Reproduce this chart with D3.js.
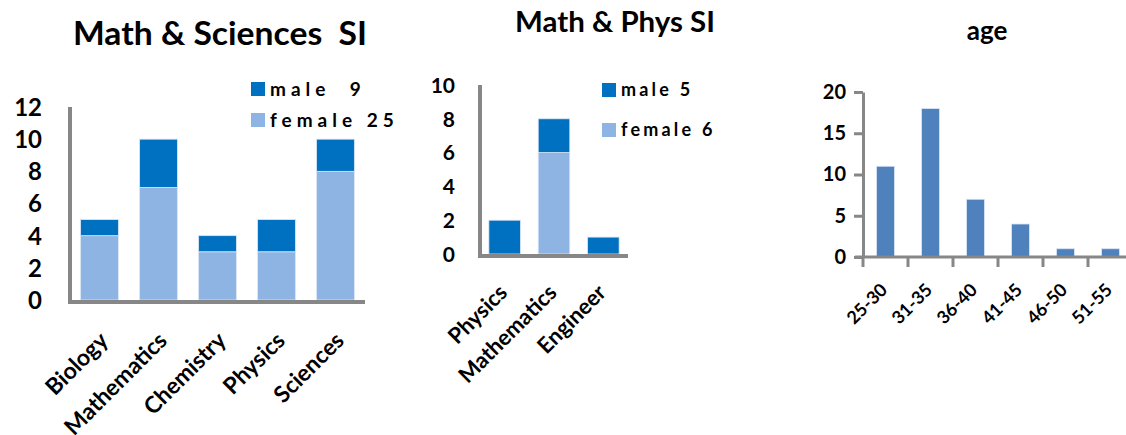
<!DOCTYPE html>
<html>
<head>
<meta charset="utf-8">
<script src="https://cdn.jsdelivr.net/npm/d3@7"></script>
<style>
  body { margin: 0; background: #fff; }
  svg { display: block; font-family: Lato, "Open Sans", sans-serif; font-weight: bold; }
</style>
</head>
<body>
<svg width="1126" height="435"></svg>
<script>
// chart 1: Math & Sciences SI
var sciCategories = ['Biology', 'Mathematics', 'Chemistry', 'Physics', 'Sciences'];
var sciFemale = [4, 7, 3, 3, 8];
var sciMale = [1, 3, 1, 2, 2];
var sciTicks = [0, 2, 4, 6, 8, 10, 12];

// chart 2: Math & Phys SI
var physCategories = ['Physics', 'Mathematics', 'Engineer'];
var physFemale = [0, 6, 0];
var physMale = [2, 2, 1];
var physTicks = [0, 2, 4, 6, 8, 10];

// chart 3: age
var ageCategories = ['25-30', '31-35', '36-40', '41-45', '46-50', '51-55'];
var ageCounts = [11, 18, 7, 4, 1, 1];
var ageTicks = [0, 5, 10, 15, 20];

var maleColor = '#0070c0';
var femaleColor = '#8eb4e3';
var ageColor = '#4f81bd';
var axisColor = '#878787';

var svg = d3.select('svg');

function stackedChart(opt) {
    var g = svg.append('g');
    var x = d3.scaleBand().domain(opt.categories).range([opt.left, opt.right]).paddingInner(opt.pad).paddingOuter(opt.pad / 2);
    var y = d3.scaleLinear().domain([0, opt.max]).range([opt.bottom, opt.top]);

    var rows = opt.categories.map(function(c, i) {
        return { cat: c, female: opt.female[i], male: opt.male[i] };
    });
    var series = d3.stack().keys(['female', 'male'])(rows);

    g.selectAll('g.layer')
        .data(series)
        .enter()
        .append('g')
        .attr('fill', function(d) { return d.key == 'male' ? maleColor : femaleColor })
        .selectAll('rect')
        .data(function(d) { return d.filter(function(s) { return s[1] > s[0] }) })
        .enter()
        .append('rect')
        .attr('x', function(d) { return x(d.data.cat) })
        .attr('width', x.bandwidth())
        .attr('y', function(d) { return y(d[1]) })
        .attr('height', function(d) { return y(d[0]) - y(d[1]) })
        .attr('stroke', '#dbe6f4')
        .attr('stroke-width', 0.8);

    // axes lines
    g.append('line')
        .attr('x1', opt.left).attr('x2', opt.left)
        .attr('y1', y(opt.max)).attr('y2', opt.bottom + 2)
        .attr('stroke', axisColor).attr('stroke-width', 4);
    g.append('line')
        .attr('x1', opt.left - 2).attr('x2', opt.right)
        .attr('y1', opt.bottom + 2).attr('y2', opt.bottom + 2)
        .attr('stroke', axisColor).attr('stroke-width', 4);

    var yAxis = d3.axisLeft(y).tickValues(opt.ticks).tickSize(0).tickPadding(opt.left - opt.labelX);
    var ya = g.append('g').attr('transform', 'translate(' + opt.left + ',0)').call(yAxis);
    ya.select('.domain').remove();
    ya.selectAll('text').attr('font-size', opt.tickSize).attr('font-family', 'Lato').attr('font-weight', 'bold').attr('fill', '#000').attr('dy', '0.35em');

    g.selectAll('text.xl')
        .data(opt.categories)
        .enter()
        .append('text')
        .attr('class', 'xl')
        .attr('text-anchor', 'end')
        .attr('font-size', opt.xSize)
        .attr('transform', function(d) {
            return 'translate(' + (x(d) + x.bandwidth() / 2 + opt.xOff[0]) + ',' + opt.xOff[1] + ') rotate(-45)';
        })
        .text(function(d) { return d });

    g.append('text')
        .attr('x', opt.titleX).attr('y', opt.titleY)
        .attr('text-anchor', 'middle')
        .attr('font-size', opt.titleSize)
        .attr('textLength', opt.titleLen)
        .attr('lengthAdjust', 'spacingAndGlyphs')
        .attr('xml:space', 'preserve')
        .text(opt.title);

    var legend = [
        { label: opt.maleLabel, color: maleColor },
        { label: opt.femaleLabel, color: femaleColor }
    ];
    g.selectAll('rect.leg')
        .data(legend)
        .enter()
        .append('rect')
        .attr('x', opt.legX)
        .attr('y', function(d, i) { return opt.legY + i * opt.legStep })
        .attr('width', opt.legBox).attr('height', opt.legBox)
        .attr('fill', function(d) { return d.color });
    g.selectAll('text.leg')
        .data(legend)
        .enter()
        .append('text')
        .attr('x', opt.legX + opt.legBox + 5)
        .attr('y', function(d, i) { return opt.legY + i * opt.legStep + opt.legBox / 2 })
        .attr('dy', '0.36em')
        .attr('font-size', opt.legSize)
        .attr('letter-spacing', opt.legSpacing)
        .attr('xml:space', 'preserve')
        .text(function(d) { return d.label });
}

stackedChart({
    categories: sciCategories, female: sciFemale, male: sciMale, ticks: sciTicks, max: 12,
    left: 70, right: 365, top: 107, bottom: 300, pad: 0.36,
    labelX: 42, tickSize: 24, xSize: 23, xOff: [10, 342],
    title: 'Math & Sciences  SI', titleX: 220, titleY: 45, titleSize: 32, titleLen: 294,
    maleLabel: 'male  9', femaleLabel: 'female 25',
    legX: 251, legY: 82, legStep: 31, legBox: 14, legSize: 19, legSpacing: 5
});

stackedChart({
    categories: physCategories, female: physFemale, male: physMale, ticks: physTicks, max: 10,
    left: 480, right: 628, top: 85, bottom: 254, pad: 0.36,
    labelX: 455, tickSize: 21, xSize: 22, xOff: [4, 294],
    title: 'Math & Phys SI', titleX: 615, titleY: 32, titleSize: 28, titleLen: 200,
    maleLabel: 'male 5', femaleLabel: 'female 6',
    legX: 602, legY: 83, legStep: 40, legBox: 14, legSize: 18, legSpacing: 3.2
});

// age chart
var ag = svg.append('g');
var ax = d3.scaleBand().domain(ageCategories).range([863, 1133]).paddingInner(0.6).paddingOuter(0.3);
var ay = d3.scaleLinear().domain([0, 20]).range([257, 92]);

ag.selectAll('rect')
    .data(ageCounts)
    .enter()
    .append('rect')
    .attr('x', function(d, i) { return ax(ageCategories[i]) })
    .attr('width', ax.bandwidth())
    .attr('y', function(d) { return ay(d) })
    .attr('height', function(d) { return ay(0) - ay(d) })
    .attr('fill', ageColor)
    .attr('stroke', '#dbe6f4')
    .attr('stroke-width', 0.8);

var yAxis3 = d3.axisLeft(ay).tickValues(ageTicks).tickSizeOuter(0).tickSizeInner(9).tickPadding(8);
var ya3 = ag.append('g').attr('transform', 'translate(863,0)').call(yAxis3);
ya3.select('.domain').attr('stroke', axisColor).attr('stroke-width', 3);
ya3.selectAll('line').attr('stroke', axisColor).attr('stroke-width', 3);
ya3.selectAll('text').attr('font-size', 20).attr('font-family', 'Lato').attr('font-weight', 'bold').attr('fill', '#000');

ag.append('line')
    .attr('x1', 855).attr('x2', 1126)
    .attr('y1', ay(0)).attr('y2', ay(0))
    .attr('stroke', axisColor).attr('stroke-width', 3);

ag.selectAll('line.bt')
    .data(ageCategories)
    .enter()
    .append('line')
    .attr('x1', function(d) { return ax(d) - ax.step() * ax.paddingInner() / 2 })
    .attr('x2', function(d) { return ax(d) - ax.step() * ax.paddingInner() / 2 })
    .attr('y1', ay(0)).attr('y2', ay(0) + 10)
    .attr('stroke', axisColor).attr('stroke-width', 3);

ag.selectAll('text.xl')
    .data(ageCategories)
    .enter()
    .append('text')
    .attr('text-anchor', 'end')
    .attr('font-size', 18)
    .attr('transform', function(d) {
        return 'translate(' + (ax(d) + ax.bandwidth() / 2 + 3) + ',291) rotate(-45)';
    })
    .text(function(d) { return d });

ag.append('text')
    .attr('x', 987).attr('y', 40)
    .attr('text-anchor', 'middle')
    .attr('font-size', 26)
    .text('age');
</script>
</body>
</html>
